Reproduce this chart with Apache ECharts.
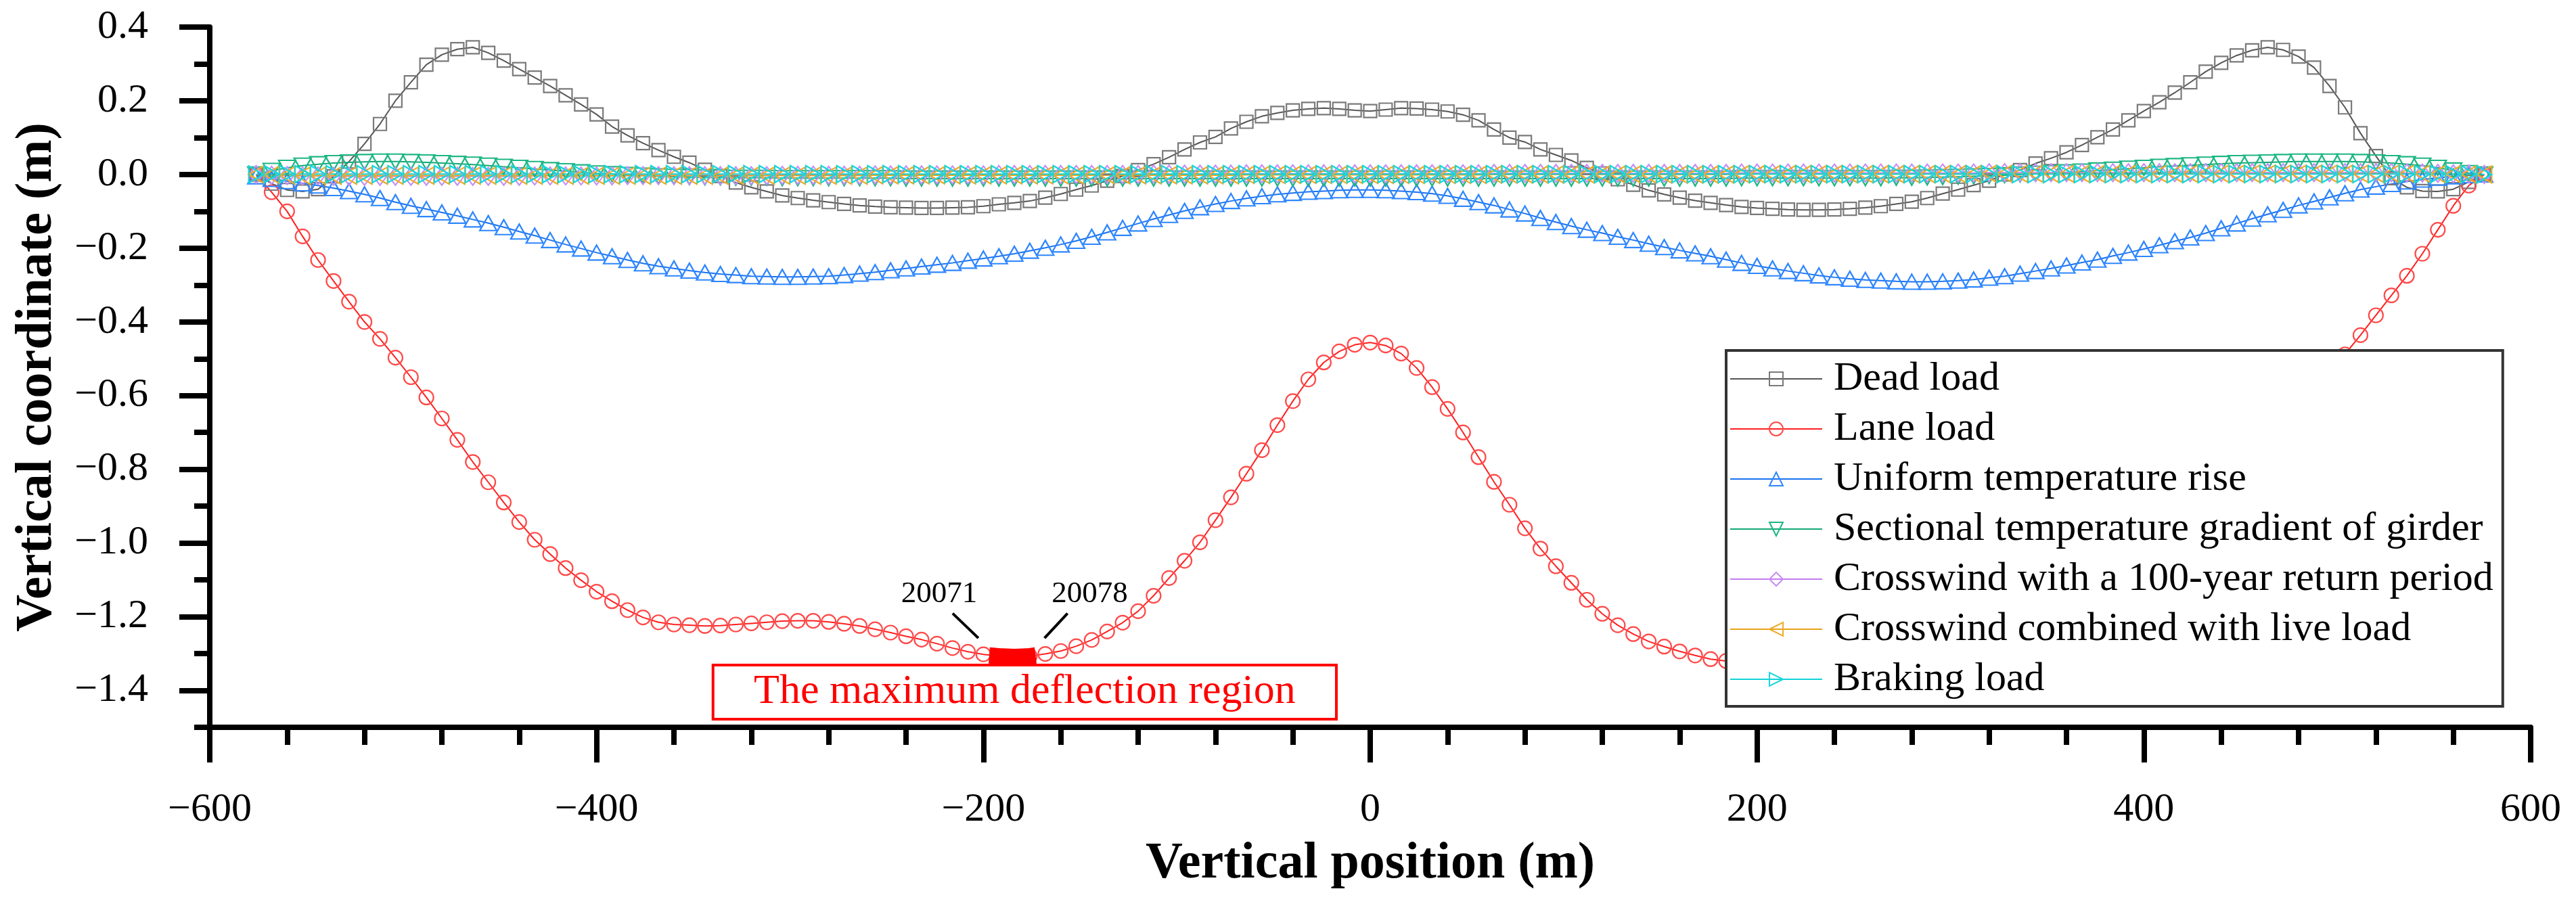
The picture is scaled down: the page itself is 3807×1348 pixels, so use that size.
<!DOCTYPE html>
<html>
<head>
<meta charset="utf-8">
<title>Vertical coordinate along the girder</title>
<script src="https://cdn.jsdelivr.net/npm/echarts@6/dist/echarts.min.js"></script>
<style>
  html, body { margin: 0; padding: 0; background: #fff; }
  #chart { width: 3807px; height: 1348px; }
</style>
</head>
<body>
<div id="chart"></div>
<script>
// node positions along the girder (m)
const positions = [
  -576, -568, -560, -552, -544, -536, -528, -520,
  -512, -504, -496, -488, -480, -472, -464, -456,
  -448, -440, -432, -424, -416, -408, -400, -392,
  -384, -376, -368, -360, -352, -344, -336, -328,
  -320, -312, -304, -296, -288, -280, -272, -264,
  -256, -248, -240, -232, -224, -216, -208, -200,
  -192, -184, -176, -168, -160, -152, -144, -136,
  -128, -120, -112, -104, -96, -88, -80, -72,
  -64, -56, -48, -40, -32, -24, -16, -8,
  0, 8, 16, 24, 32, 40, 48, 56,
  64, 72, 80, 88, 96, 104, 112, 120,
  128, 136, 144, 152, 160, 168, 176, 184,
  192, 200, 208, 216, 224, 232, 240, 248,
  256, 264, 272, 280, 288, 296, 304, 312,
  320, 328, 336, 344, 352, 360, 368, 376,
  384, 392, 400, 408, 416, 424, 432, 440,
  448, 456, 464, 472, 480, 488, 496, 504,
  512, 520, 528, 536, 544, 552, 560, 568,
  576
];

const deadLoad = [
  0.000, -0.025, -0.042, -0.046, -0.040, -0.005, 0.035, 0.083,
  0.137, 0.200, 0.250, 0.298, 0.325, 0.340, 0.345, 0.330,
  0.309, 0.286, 0.263, 0.240, 0.215, 0.190, 0.163, 0.130,
  0.106, 0.085, 0.066, 0.048, 0.032, 0.013, -0.004, -0.022,
  -0.035, -0.046, -0.057, -0.064, -0.070, -0.075, -0.080, -0.084,
  -0.087, -0.089, -0.090, -0.091, -0.091, -0.090, -0.089, -0.086,
  -0.081, -0.077, -0.072, -0.063, -0.053, -0.041, -0.030, -0.017,
  -0.004, 0.012, 0.028, 0.047, 0.068, 0.087, 0.102, 0.125,
  0.143, 0.158, 0.167, 0.174, 0.178, 0.180, 0.178, 0.174,
  0.172, 0.176, 0.180, 0.179, 0.176, 0.171, 0.162, 0.147,
  0.122, 0.100, 0.088, 0.068, 0.053, 0.038, 0.018, 0.003,
  -0.013, -0.028, -0.043, -0.054, -0.063, -0.071, -0.077, -0.083,
  -0.088, -0.091, -0.093, -0.095, -0.096, -0.096, -0.095, -0.093,
  -0.090, -0.086, -0.080, -0.074, -0.064, -0.052, -0.041, -0.029,
  -0.017, 0.000, 0.012, 0.030, 0.044, 0.060, 0.080, 0.101,
  0.122, 0.147, 0.172, 0.196, 0.222, 0.250, 0.279, 0.303,
  0.323, 0.337, 0.345, 0.338, 0.320, 0.290, 0.240, 0.182,
  0.112, 0.050, -0.010, -0.035, -0.045, -0.046, -0.040, -0.020,
  0.000
];

const laneLoad = [
  0.000, -0.048, -0.100, -0.168, -0.232, -0.289, -0.345, -0.400,
  -0.446, -0.497, -0.550, -0.605, -0.662, -0.720, -0.780, -0.835,
  -0.890, -0.943, -0.991, -1.030, -1.068, -1.101, -1.132, -1.158,
  -1.182, -1.202, -1.215, -1.221, -1.223, -1.225, -1.224, -1.221,
  -1.218, -1.215, -1.212, -1.211, -1.211, -1.214, -1.219, -1.225,
  -1.234, -1.243, -1.253, -1.262, -1.273, -1.285, -1.295, -1.302,
  -1.307, -1.309, -1.307, -1.301, -1.293, -1.280, -1.263, -1.240,
  -1.216, -1.185, -1.143, -1.095, -1.048, -0.998, -0.938, -0.876,
  -0.812, -0.748, -0.680, -0.615, -0.556, -0.510, -0.480, -0.462,
  -0.456, -0.464, -0.486, -0.525, -0.577, -0.636, -0.700, -0.767,
  -0.834, -0.896, -0.960, -1.015, -1.063, -1.108, -1.154, -1.192,
  -1.223, -1.247, -1.267, -1.281, -1.294, -1.305, -1.315, -1.320,
  -1.325, -1.326, -1.320, -1.308, -1.294, -1.279, -1.265, -1.253,
  -1.243, -1.234, -1.227, -1.223, -1.220, -1.220, -1.221, -1.223,
  -1.225, -1.228, -1.230, -1.230, -1.227, -1.220, -1.208, -1.192,
  -1.171, -1.145, -1.117, -1.088, -1.054, -1.015, -0.972, -0.923,
  -0.872, -0.818, -0.764, -0.708, -0.653, -0.598, -0.543, -0.488,
  -0.436, -0.382, -0.328, -0.275, -0.215, -0.150, -0.085, -0.030,
  0.000
];

const uniformTempRise = [
  -0.005, -0.012, -0.018, -0.024, -0.030, -0.037, -0.045, -0.054,
  -0.064, -0.075, -0.085, -0.094, -0.103, -0.112, -0.122, -0.132,
  -0.143, -0.155, -0.166, -0.178, -0.190, -0.201, -0.212, -0.222,
  -0.232, -0.241, -0.249, -0.255, -0.261, -0.266, -0.270, -0.273,
  -0.276, -0.277, -0.278, -0.278, -0.277, -0.276, -0.273, -0.269,
  -0.265, -0.260, -0.255, -0.250, -0.245, -0.240, -0.234, -0.228,
  -0.222, -0.215, -0.207, -0.199, -0.190, -0.180, -0.169, -0.157,
  -0.145, -0.133, -0.121, -0.110, -0.099, -0.089, -0.080, -0.072,
  -0.065, -0.059, -0.054, -0.050, -0.047, -0.045, -0.043, -0.042,
  -0.042, -0.043, -0.045, -0.048, -0.052, -0.058, -0.066, -0.075,
  -0.084, -0.095, -0.106, -0.118, -0.129, -0.140, -0.150, -0.159,
  -0.169, -0.178, -0.188, -0.197, -0.206, -0.214, -0.222, -0.231,
  -0.240, -0.248, -0.255, -0.262, -0.268, -0.274, -0.279, -0.283,
  -0.286, -0.288, -0.290, -0.291, -0.291, -0.290, -0.288, -0.285,
  -0.280, -0.276, -0.269, -0.262, -0.255, -0.247, -0.239, -0.231,
  -0.221, -0.212, -0.202, -0.192, -0.181, -0.171, -0.159, -0.146,
  -0.133, -0.120, -0.108, -0.096, -0.084, -0.073, -0.062, -0.051,
  -0.041, -0.033, -0.026, -0.019, -0.014, -0.009, -0.005, -0.002,
  0.000
];

const tempGradient = [
  0.000, 0.010, 0.018, 0.024, 0.028, 0.031, 0.033, 0.034,
  0.035, 0.035, 0.034, 0.033, 0.031, 0.029, 0.027, 0.024,
  0.021, 0.018, 0.015, 0.012, 0.009, 0.006, 0.003, 0.001,
  -0.001, -0.003, -0.005, -0.006, -0.007, -0.008, -0.008, -0.009,
  -0.009, -0.009, -0.010, -0.010, -0.010, -0.010, -0.010, -0.010,
  -0.010, -0.010, -0.011, -0.011, -0.011, -0.011, -0.011, -0.011,
  -0.011, -0.011, -0.011, -0.011, -0.011, -0.011, -0.011, -0.011,
  -0.011, -0.011, -0.011, -0.011, -0.011, -0.011, -0.011, -0.011,
  -0.011, -0.011, -0.011, -0.011, -0.011, -0.011, -0.011, -0.011,
  -0.011, -0.011, -0.011, -0.011, -0.011, -0.011, -0.011, -0.011,
  -0.011, -0.011, -0.011, -0.011, -0.011, -0.011, -0.011, -0.011,
  -0.011, -0.011, -0.011, -0.011, -0.011, -0.011, -0.011, -0.011,
  -0.010, -0.010, -0.010, -0.010, -0.010, -0.010, -0.010, -0.010,
  -0.010, -0.010, -0.009, -0.009, -0.008, -0.007, -0.006, -0.005,
  -0.004, -0.002, 0.000, 0.002, 0.004, 0.006, 0.008, 0.011,
  0.013, 0.016, 0.018, 0.021, 0.023, 0.025, 0.027, 0.029,
  0.031, 0.032, 0.033, 0.034, 0.035, 0.035, 0.035, 0.035,
  0.034, 0.033, 0.031, 0.028, 0.024, 0.018, 0.011, 0.004,
  0.000
];

const crosswind100 = [
  0.000, -0.002, -0.003, -0.004, -0.004, -0.005, -0.005, -0.005,
  -0.005, -0.005, -0.005, -0.005, -0.005, -0.005, -0.005, -0.005,
  -0.005, -0.005, -0.004, -0.004, -0.004, -0.004, -0.004, -0.004,
  -0.003, -0.003, -0.003, -0.003, -0.003, -0.003, -0.003, -0.003,
  -0.003, -0.003, -0.002, -0.002, -0.002, -0.002, -0.002, -0.002,
  -0.001, -0.001, -0.001, -0.001, -0.001, -0.001, -0.001, -0.001,
  0.000, 0.000, 0.000, 0.000, 0.000, 0.000, 0.000, 0.000,
  0.000, 0.000, 0.001, 0.001, 0.001, 0.001, 0.001, 0.001,
  0.002, 0.002, 0.002, 0.002, 0.002, 0.002, 0.002, 0.002,
  0.002, 0.002, 0.002, 0.002, 0.002, 0.002, 0.002, 0.002,
  0.003, 0.003, 0.003, 0.003, 0.003, 0.003, 0.003, 0.003,
  0.003, 0.003, 0.003, 0.003, 0.003, 0.003, 0.003, 0.003,
  0.004, 0.004, 0.004, 0.004, 0.004, 0.004, 0.004, 0.004,
  0.004, 0.004, 0.004, 0.004, 0.004, 0.004, 0.004, 0.004,
  0.005, 0.005, 0.005, 0.005, 0.005, 0.005, 0.005, 0.005,
  0.005, 0.005, 0.005, 0.005, 0.005, 0.005, 0.005, 0.005,
  0.005, 0.005, 0.005, 0.005, 0.005, 0.005, 0.005, 0.005,
  0.005, 0.005, 0.005, 0.004, 0.004, 0.003, 0.002, 0.001,
  0.000
];

const crosswindLive = [
  0.000, -0.001, -0.002, -0.003, -0.003, -0.003, -0.003, -0.003,
  -0.003, -0.003, -0.003, -0.003, -0.003, -0.003, -0.003, -0.003,
  -0.003, -0.003, -0.003, -0.003, -0.003, -0.003, -0.003, -0.003,
  -0.003, -0.003, -0.003, -0.003, -0.003, -0.003, -0.003, -0.003,
  -0.003, -0.003, -0.003, -0.003, -0.003, -0.003, -0.003, -0.003,
  -0.002, -0.002, -0.002, -0.002, -0.002, -0.002, -0.002, -0.002,
  -0.002, -0.002, -0.002, -0.002, -0.002, -0.002, -0.002, -0.002,
  -0.002, -0.002, -0.002, -0.002, -0.002, -0.002, -0.002, -0.002,
  -0.001, -0.001, -0.001, -0.001, -0.001, -0.001, -0.001, -0.001,
  -0.001, -0.001, -0.001, -0.001, -0.001, -0.001, -0.001, -0.001,
  0.000, 0.000, 0.000, 0.000, 0.000, 0.000, 0.000, 0.000,
  0.000, 0.000, 0.000, 0.000, 0.000, 0.000, 0.000, 0.000,
  0.001, 0.001, 0.001, 0.001, 0.001, 0.001, 0.001, 0.001,
  0.001, 0.001, 0.001, 0.001, 0.001, 0.001, 0.001, 0.001,
  0.002, 0.002, 0.002, 0.002, 0.002, 0.002, 0.002, 0.002,
  0.002, 0.002, 0.002, 0.002, 0.002, 0.002, 0.002, 0.002,
  0.002, 0.002, 0.002, 0.002, 0.002, 0.002, 0.002, 0.002,
  0.002, 0.002, 0.002, 0.002, 0.002, 0.001, 0.001, 0.000,
  0.000
];

const brakingLoad = [
  0.000, 0.001, 0.001, 0.001, 0.001, 0.001, 0.001, 0.001,
  0.001, 0.001, 0.001, 0.001, 0.001, 0.001, 0.001, 0.001,
  0.001, 0.001, 0.001, 0.001, 0.001, 0.001, 0.001, 0.001,
  0.001, 0.001, 0.001, 0.001, 0.001, 0.001, 0.001, 0.001,
  0.001, 0.001, 0.001, 0.001, 0.001, 0.001, 0.001, 0.001,
  0.001, 0.001, 0.001, 0.001, 0.001, 0.001, 0.001, 0.001,
  0.001, 0.001, 0.001, 0.001, 0.001, 0.001, 0.001, 0.001,
  0.001, 0.001, 0.001, 0.001, 0.001, 0.001, 0.001, 0.001,
  0.001, 0.001, 0.001, 0.001, 0.001, 0.001, 0.001, 0.001,
  0.001, 0.001, 0.001, 0.001, 0.001, 0.001, 0.001, 0.001,
  0.001, 0.001, 0.001, 0.001, 0.001, 0.001, 0.001, 0.001,
  0.001, 0.001, 0.001, 0.001, 0.001, 0.001, 0.001, 0.001,
  0.001, 0.001, 0.001, 0.001, 0.001, 0.001, 0.001, 0.001,
  0.001, 0.001, 0.001, 0.001, 0.001, 0.001, 0.001, 0.001,
  0.001, 0.001, 0.001, 0.001, 0.001, 0.001, 0.001, 0.001,
  0.001, 0.001, 0.001, 0.001, 0.001, 0.001, 0.001, 0.001,
  0.001, 0.001, 0.001, 0.001, 0.001, 0.001, 0.001, 0.001,
  0.001, 0.001, 0.001, 0.001, 0.001, 0.001, 0.001, 0.001,
  0.000
];

// nodes 20071 - 20078 (maximum deflection region on the lane-load curve)
const maxRegion = [[-197, -1.305], [-192, -1.307], [-184, -1.309], [-176, -1.307], [-173, -1.305]];

const seriesNames = [
  'Dead load',
  'Lane load',
  'Uniform temperature rise',
  'Sectional temperature gradient of girder',
  'Crosswind with a 100-year return period',
  'Crosswind combined with live load',
  'Braking load'
];

const yMajorTicks = [-1.4, -1.2, -1.0, -0.8, -0.6, -0.4, -0.2, 0.0, 0.2, 0.4];
const yMinorTicks = [-1.5, -1.3, -1.1, -0.9, -0.7, -0.5, -0.3, -0.1, 0.1, 0.3];

const FONT = "'Liberation Serif', 'Times New Roman', 'DejaVu Serif', serif";
const BLACK = '#000';

const pairs = values => positions.map((x, i) => [x, values[i]]);

const curve = (name, values, lineColor, markColor, symbol, size, rotate) => ({
  name,
  type: 'line',
  data: pairs(values),
  symbol,
  symbolSize: size,
  symbolRotate: rotate || 0,
  showAllSymbol: true,
  lineStyle: { color: lineColor, width: 2 },
  itemStyle: { color: 'rgba(255,255,255,0)', borderColor: markColor, borderWidth: 2.2 },
  emphasis: { disabled: true }
});

const minusFmt = (v, digits) => {
  const s = Math.abs(v).toFixed(digits)
  return v < -1e-9 ? '\u2212' + s : s
};

const chart = echarts.init(document.getElementById('chart'));

chart.setOption({
  animation: false,
  backgroundColor: '#fff',
  grid: { left: 310, right: 67, top: 40, bottom: 273 },
  legend: {
    data: seriesNames,
    orient: 'vertical',
    left: 2551,
    top: 518,
    padding: [12, 14, 10, 5],
    itemGap: 14,
    itemWidth: 136,
    itemHeight: 25,
    backgroundColor: '#fff',
    borderColor: '#333',
    borderWidth: 4,
    borderRadius: 0,
    selectedMode: false,
    textStyle: { fontFamily: FONT, fontSize: 60, lineHeight: 60, color: BLACK, padding: [0, 0, 0, 12] }
  },
  xAxis: {
    type: 'value',
    min: -600,
    max: 600,
    interval: 200,
    name: 'Vertical position (m)',
    nameLocation: 'middle',
    nameGap: 164,
    nameTextStyle: { fontFamily: FONT, fontSize: 76, fontWeight: 'bold', color: BLACK },
    axisLine: { onZero: false, lineStyle: { color: BLACK, width: 8 } },
    axisTick: { length: 52, lineStyle: { color: BLACK, width: 8 } },
    minorTick: { show: true, splitNumber: 5, length: 26, lineStyle: { color: BLACK, width: 8 } },
    splitLine: { show: false },
    axisLabel: {
      margin: 92,
      fontFamily: FONT,
      fontSize: 60,
      color: BLACK,
      formatter: v => minusFmt(v, 0)
    }
  },
  yAxis: [
    {
      type: 'value',
      min: -1.5,
      max: 0.4,
      position: 'left',
      name: 'Vertical coordinate (m)',
      nameLocation: 'middle',
      nameGap: 217,
      nameTextStyle: { fontFamily: FONT, fontSize: 76, fontWeight: 'bold', color: BLACK },
      axisLine: { show: true, onZero: false, lineStyle: { color: BLACK, width: 8 } },
      axisTick: { show: true, length: 45, customValues: yMajorTicks, lineStyle: { color: BLACK, width: 8 } },
      splitLine: { show: false },
      axisLabel: {
        margin: 91,
        fontFamily: FONT,
        fontSize: 60,
        color: BLACK,
        customValues: yMajorTicks,
        formatter: v => minusFmt(v, 1)
      }
    },
    {
      type: 'value',
      min: -1.5,
      max: 0.4,
      position: 'left',
      axisLine: { show: false, onZero: false },
      axisTick: { show: true, length: 23, customValues: yMinorTicks, lineStyle: { color: BLACK, width: 8 } },
      axisLabel: { show: false },
      splitLine: { show: false }
    }
  ],
  series: [
    curve(seriesNames[0], deadLoad, '#555555', '#7a7a7a', 'rect', [19, 19]),
    curve(seriesNames[1], laneLoad, '#ff1f1f', '#ff4a4a', 'circle', [21, 21]),
    curve(seriesNames[2], uniformTempRise, '#1a72ee', '#2e86ff', 'triangle', [25, 22]),
    curve(seriesNames[3], tempGradient, '#12a877', '#1db684', 'triangle', [25, 22], 180),
    curve(seriesNames[4], crosswind100, '#c27cf2', '#c78ef5', 'diamond', [20, 26]),
    curve(seriesNames[5], crosswindLive, '#e8a21c', '#eeab2a', 'triangle', [25, 22], 90),
    curve(seriesNames[6], brakingLoad, '#0fd2d8', '#19d6dc', 'triangle', [25, 22], -90),
    {
      name: 'max deflection',
      type: 'line',
      data: maxRegion,
      symbol: 'none',
      z: 5,
      lineStyle: { color: '#ff0000', width: 24, cap: 'butt' },
      emphasis: { disabled: true },
      markArea: {
        silent: true,
        itemStyle: { color: '#fff', borderColor: '#ff0000', borderWidth: 4 },
        label: {
          show: true,
          position: 'inside',
          fontFamily: FONT,
          fontSize: 62,
          color: '#ff0000'
        },
        data: [[
          { name: 'The maximum deflection region', coord: [-339.8, -1.331] },
          { coord: [-17.5, -1.478] }
        ]]
      },
      markLine: {
        silent: true,
        symbol: ['none', 'arrow'],
        symbolSize: [0, 24],
        lineStyle: { color: BLACK, width: 4, type: 'solid' },
        label: { show: false },
        data: [
          [{ coord: [-215.9, -1.191] }, { coord: [-202.6, -1.258] }],
          [{ coord: [-156.5, -1.191] }, { coord: [-168.4, -1.258] }]
        ]
      },
      markPoint: {
        silent: true,
        symbol: 'rect',
        symbolSize: 1,
        itemStyle: { color: 'rgba(0,0,0,0)' },
        label: {
          show: true,
          position: 'inside',
          formatter: '{b}',
          fontFamily: FONT,
          fontSize: 45,
          color: BLACK
        },
        data: [
          { name: '20071', coord: [-222.9, -1.138] },
          { name: '20078', coord: [-145.0, -1.138] }
        ]
      }
    }
  ]
});
</script>
</body>
</html>
